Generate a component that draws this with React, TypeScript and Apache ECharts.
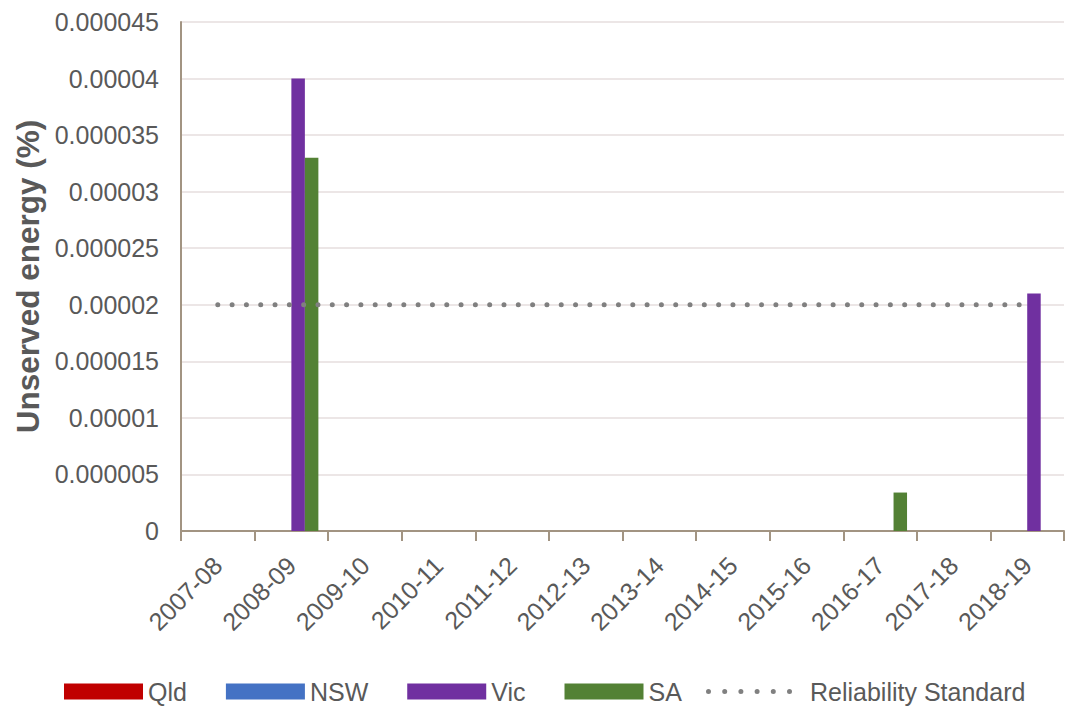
import React, { useEffect, useRef } from "react";
import * as echarts from "echarts";

const categories = [
  "2007-08", "2008-09", "2009-10", "2010-11", "2011-12", "2012-13",
  "2013-14", "2014-15", "2015-16", "2016-17", "2017-18", "2018-19",
];
const qld = [0, 0, 0, 0, 0, 0, 0, 0, 0, 0, 0, 0];
const nsw = [0, 0, 0, 0, 0, 0, 0, 0, 0, 0, 0, 0];
const vic = [0, 0.00004, 0, 0, 0, 0, 0, 0, 0, 0, 0, 0.000021];
const sa = [0, 0.000033, 0, 0, 0, 0, 0, 0, 0, 0.0000034, 0, 0];
const reliability = [
  0.00002, 0.00002, 0.00002, 0.00002, 0.00002, 0.00002,
  0.00002, 0.00002, 0.00002, 0.00002, 0.00002, 0.00002,
];

const FONT = "'Liberation Sans', Arial, sans-serif";
const TEXT = "#595959";
const AXIS = "#a29482";

// six dots legend icon, with corner move-points so the box is not stretched
const dotIcon = (() => {
  let d = "M0,0 L0,0 M99,16 L99,16 ";
  for (let k = 0; k < 6; k++) {
    const cx = 2.5 + k * 16.2;
    d += `M${cx - 2.5},8 a2.5,2.5 0 1,0 5,0 a2.5,2.5 0 1,0 -5,0 `;
  }
  return "path://" + d;
})();

export default function App() {
  const ref = useRef<HTMLDivElement>(null);
  useEffect(() => {
    if (!ref.current) return;
    const chart = echarts.init(ref.current, null, { renderer: "svg" });
    const bar = (name: string, data: number[], color: string) => ({
      name,
      type: "bar",
      data,
      barWidth: 13.5,
      barGap: "0%",
      itemStyle: { color },
    });
    const legendText = { fontSize: 25, color: TEXT, fontFamily: FONT };
    chart.setOption({
      animation: false,
      textStyle: { fontFamily: FONT },
      grid: { left: 181, right: 4, top: 22, bottom: 177, containLabel: false },
      legend: [
        {
          left: 59,
          top: 674,
          itemWidth: 79,
          itemHeight: 16,
          itemGap: 39,
          textStyle: legendText,
          data: [
            { name: "Qld", icon: "rect" },
            { name: "NSW", icon: "rect" },
            { name: "Vic", icon: "rect" },
            { name: "SA", icon: "rect" },
          ],
        },
        {
          left: 701,
          top: 674,
          itemWidth: 99,
          itemHeight: 16,
          textStyle: legendText,
          data: [{ name: "Reliability Standard", icon: dotIcon }],
        },
      ],
      xAxis: {
        type: "category",
        data: categories,
        axisLine: { lineStyle: { color: AXIS, width: 2 } },
        axisTick: { show: true, length: 10, lineStyle: { color: AXIS, width: 2 } },
        axisLabel: {
          rotate: 45,
          fontSize: 25,
          color: TEXT,
          fontFamily: FONT,
          margin: 30,
          interval: 0,
        },
        splitLine: { show: false },
      },
      yAxis: {
        type: "value",
        min: 0,
        max: 0.000045,
        interval: 0.000005,
        name: "Unserved energy (%)",
        nameLocation: "middle",
        nameGap: 134,
        nameTextStyle: { fontSize: 31.5, fontWeight: "bold", color: TEXT, fontFamily: FONT },
        axisLine: { show: true, lineStyle: { color: AXIS, width: 2 } },
        axisTick: { show: false },
        axisLabel: {
          fontSize: 25,
          color: TEXT,
          fontFamily: FONT,
          margin: 22,
          formatter: (v: number) => (v === 0 ? "0" : parseFloat(v.toFixed(7)).toString()),
        },
        splitLine: { lineStyle: { color: "#ece6e6", width: 2 } },
      },
      series: [
        bar("Qld", qld, "#C00000"),
        bar("NSW", nsw, "#4472C4"),
        bar("Vic", vic, "#7030A0"),
        bar("SA", sa, "#538135"),
        {
          name: "Reliability Standard",
          type: "line",
          data: reliability,
          symbol: "none",
          itemStyle: { color: "#808080" },
          lineStyle: { color: "#808080", width: 5, type: [0.01, 14.3], cap: "round" },
          z: 5,
        },
      ],
    });
    return () => chart.dispose();
  }, []);
  return (
    <div
      ref={ref}
      style={{ position: "fixed", left: 0, top: 0, width: 1068, height: 708, background: "#fff" }}
    />
  );
}
